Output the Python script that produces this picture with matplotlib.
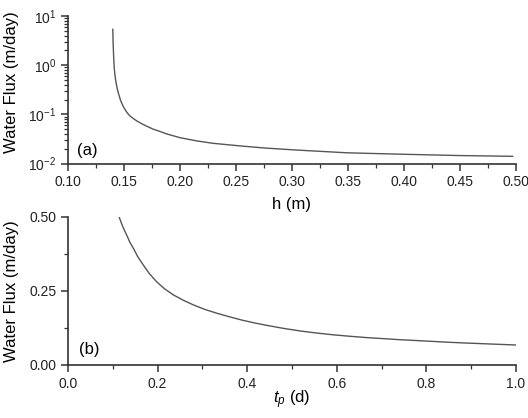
import matplotlib
matplotlib.use("Agg")
import matplotlib.pyplot as plt
from matplotlib.ticker import FormatStrFormatter, MultipleLocator, LogLocator, NullFormatter

plt.rcParams['font.family'] = ['Liberation Sans', 'DejaVu Sans']
plt.rcParams['mathtext.fontset'] = 'custom'
plt.rcParams['mathtext.rm'] = 'Liberation Sans'
plt.rcParams['mathtext.it'] = 'Liberation Sans:italic'

# Panel (a): water flux vs h
h_m = [0.1400, 0.1402, 0.1405, 0.1408, 0.1412, 0.1417, 0.1423, 0.1430, 0.1440,
       0.1452, 0.1470, 0.1495, 0.1524, 0.1550, 0.1583, 0.1625, 0.1672, 0.1720,
       0.1760, 0.1820, 0.1880, 0.2000, 0.2150, 0.2298, 0.2536, 0.2750, 0.3020,
       0.3490, 0.4000, 0.4506, 0.4970]
flux_h = [5.36, 3.30, 2.10, 1.40, 0.95, 0.70, 0.54, 0.43, 0.33,
          0.26, 0.19, 0.142, 0.111, 0.094, 0.082, 0.071, 0.062, 0.055,
          0.050, 0.045, 0.040, 0.0335, 0.0288, 0.0257, 0.0228, 0.0207, 0.0189,
          0.0165, 0.0154, 0.0145, 0.0140]

# Panel (b): water flux vs t_p
tp_d = [0.1146, 0.122, 0.131, 0.138, 0.146, 0.156, 0.168, 0.182, 0.198, 0.215,
        0.235, 0.257, 0.280, 0.305, 0.332, 0.360, 0.390, 0.420, 0.4435, 0.480,
        0.518, 0.555, 0.592, 0.630, 0.667, 0.705, 0.741, 0.798, 0.850, 0.884,
        0.950, 0.999]
flux_tp = [0.498, 0.468, 0.439, 0.415, 0.394, 0.365, 0.338, 0.308, 0.281, 0.258,
           0.237, 0.219, 0.203, 0.188, 0.175, 0.163, 0.151, 0.141, 0.134, 0.124,
           0.115, 0.108, 0.102, 0.097, 0.0925, 0.089, 0.0855, 0.081, 0.0768, 0.0745,
           0.0705, 0.0676]

line_color = '#555555'
fig = plt.figure(figsize=(5.28, 4.18), dpi=100)

W, H = 528, 418
def rect(l, r, t, b):
    return [l / W, 1 - b / H, (r - l) / W, (b - t) / H]

ax1 = fig.add_axes(rect(68, 516, 16, 163.5))
ax2 = fig.add_axes(rect(68, 516, 217, 365))

for ax in (ax1, ax2):
    ax.spines['top'].set_visible(False)
    ax.spines['right'].set_visible(False)
    for s in ('left', 'bottom'):
        ax.spines[s].set_linewidth(1.2)
        ax.spines[s].set_color('#333333')
    ax.tick_params(which='major', direction='out', length=5, width=1.1, labelsize=10, colors='#333333', labelcolor='#222222')
    ax.tick_params(which='minor', direction='out', length=3, width=0.9, colors='#333333')

# Panel (a)
ax1.plot(h_m, flux_h, color=line_color, lw=1.0)
ax1.set_yscale('log')
ax1.set_ylim(1e-2, 1e1)
ax1.set_xlim(0.10, 0.50)
ax1.xaxis.set_major_locator(MultipleLocator(0.05))
ax1.xaxis.set_minor_locator(MultipleLocator(0.025))
ax1.xaxis.set_major_formatter(FormatStrFormatter('%.2f'))
ax1.yaxis.set_major_locator(LogLocator(base=10, numticks=10))
ax1.yaxis.set_minor_locator(LogLocator(base=10, subs=range(2, 10), numticks=20))
ax1.yaxis.set_minor_formatter(NullFormatter())
ax1.set_xlabel('h (m)', fontsize=12)
ax1.set_ylabel('Water Flux (m/day)', fontsize=12)
ax1.xaxis.set_label_coords(0.5, -0.281)
ax1.xaxis.label.set_va('center')
ax1.yaxis.set_label_coords(-0.125, 0.553)
ax1.yaxis.label.set_va('center')
ax1.text(0.02, 0.09, '(a)', transform=ax1.transAxes, fontsize=12, va='center', ha='left')

# Panel (b)
ax2.plot(tp_d, flux_tp, color=line_color, lw=1.0)
ax2.set_xlim(0.0, 1.0)
ax2.set_ylim(0.0, 0.5)
ax2.xaxis.set_major_locator(MultipleLocator(0.2))
ax2.xaxis.set_minor_locator(MultipleLocator(0.1))
ax2.xaxis.set_major_formatter(FormatStrFormatter('%.1f'))
ax2.yaxis.set_major_locator(MultipleLocator(0.25))
ax2.yaxis.set_minor_locator(MultipleLocator(0.125))
ax2.yaxis.set_major_formatter(FormatStrFormatter('%.2f'))
ax2.set_xlabel(r'$t_p$ (d)', fontsize=12)
ax2.set_ylabel('Water Flux (m/day)', fontsize=12)
ax2.xaxis.set_label_coords(0.5, -0.236)
ax2.xaxis.label.set_va('center')
ax2.yaxis.set_label_coords(-0.125, 0.5)
ax2.yaxis.label.set_va('center')
ax2.text(0.024, 0.108, '(b)', transform=ax2.transAxes, fontsize=12, va='center', ha='left')

fig.savefig('out.png', dpi=100)
